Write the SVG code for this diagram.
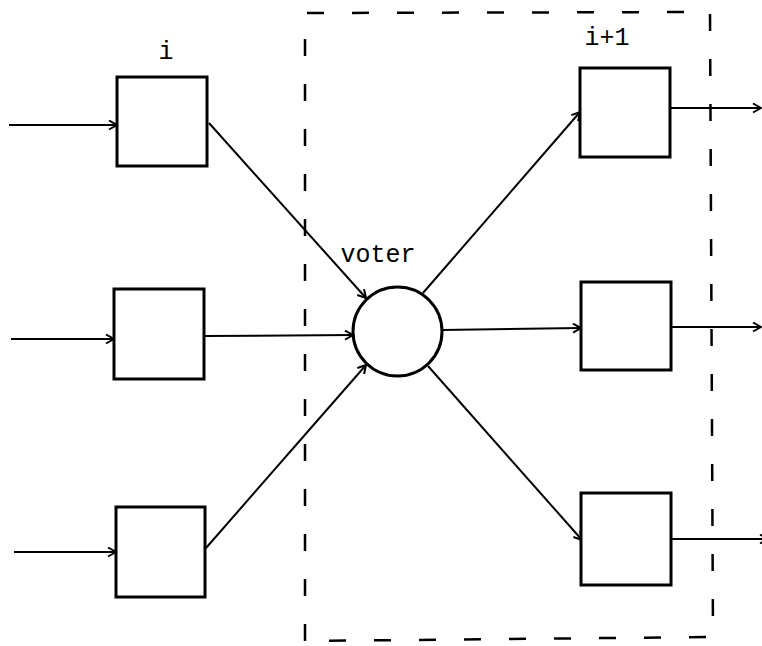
<svg xmlns="http://www.w3.org/2000/svg" width="762" height="646" viewBox="0 0 762 646">
  <style>
    .box { fill: #fff; stroke: #000; stroke-width: 3; }
    .voter { fill: #fff; stroke: #000; stroke-width: 3; }
    .wire { fill: none; stroke: #000; stroke-width: 2; }
    .stage { fill: none; stroke: #000; stroke-width: 2.5; stroke-dasharray: 17 28; }
    .lbl { font-family: "Liberation Mono", "Courier New", monospace; font-size: 25px; fill: #000; }
  </style>
  <defs>
    <marker id="arrow" markerUnits="userSpaceOnUse" markerWidth="12" markerHeight="12" refX="9" refY="5" orient="auto">
      <path d="M1,0.5 L9,5 L1,9.5" fill="none" stroke="#000" stroke-width="2"/>
    </marker>
  </defs>

  <rect width="762" height="646" fill="#fff"/>

  <!-- stage i+1 boundary -->
  <g id="stage-boundary">
    <path class="stage" d="M305,641 L305,13 L710,12 L713,637 L305,641"/>
  </g>

  <!-- connectors -->
  <g id="connectors">
    <line class="wire" x1="9" y1="125" x2="117" y2="125" marker-end="url(#arrow)"/>
    <line class="wire" x1="11" y1="339" x2="114" y2="339" marker-end="url(#arrow)"/>
    <line class="wire" x1="14" y1="552" x2="116" y2="552" marker-end="url(#arrow)"/>
    <line class="wire" x1="209" y1="123" x2="366" y2="298" marker-end="url(#arrow)"/>
    <line class="wire" x1="204" y1="336" x2="353" y2="335" marker-end="url(#arrow)"/>
    <line class="wire" x1="206" y1="548" x2="366" y2="365" marker-end="url(#arrow)"/>
    <line class="wire" x1="423" y1="293" x2="580" y2="112" marker-end="url(#arrow)"/>
    <line class="wire" x1="442" y1="330" x2="581" y2="328" marker-end="url(#arrow)"/>
    <line class="wire" x1="428" y1="366" x2="582" y2="540" marker-end="url(#arrow)"/>
    <line class="wire" x1="670" y1="108" x2="761" y2="108" marker-end="url(#arrow)"/>
    <line class="wire" x1="671" y1="327" x2="761" y2="327" marker-end="url(#arrow)"/>
    <line class="wire" x1="671" y1="539" x2="768" y2="539" marker-end="url(#arrow)"/>
  </g>

  <!-- stage i modules -->
  <g id="module-i-1">
    <rect class="box" x="117" y="77" width="90" height="89"/>
    <text class="lbl" x="166" y="59" text-anchor="middle">i</text>
  </g>
  <g id="module-i-2">
    <rect class="box" x="114" y="289" width="90" height="90"/>
  </g>
  <g id="module-i-3">
    <rect class="box" x="116" y="507" width="89" height="90"/>
  </g>

  <!-- voter -->
  <g id="voter">
    <circle class="voter" cx="397.5" cy="331.5" r="44.5"/>
    <text class="lbl" x="378" y="262" text-anchor="middle">voter</text>
  </g>

  <!-- stage i+1 modules -->
  <g id="module-i1-1">
    <rect class="box" x="580" y="68" width="90" height="89"/>
    <text class="lbl" x="607" y="45" text-anchor="middle">i+1</text>
  </g>
  <g id="module-i1-2">
    <rect class="box" x="581" y="282" width="90" height="88"/>
  </g>
  <g id="module-i1-3">
    <rect class="box" x="581" y="493" width="90" height="92"/>
  </g>
</svg>
